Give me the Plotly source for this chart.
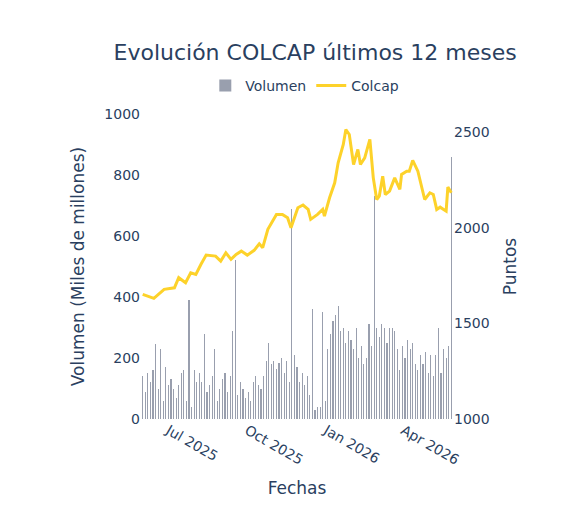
import pandas as pd
import plotly.graph_objects as go

line_dates = ["2025-06-01","2025-06-14","2025-06-26","2025-07-08","2025-07-13","2025-07-21","2025-07-27","2025-08-02","2025-08-08","2025-08-14",
"2025-08-25","2025-08-31","2025-09-06","2025-09-12","2025-09-18","2025-09-24","2025-10-01","2025-10-09","2025-10-15","2025-10-19",
"2025-10-25","2025-11-04","2025-11-11","2025-11-17","2025-11-21","2025-11-29","2025-12-05","2025-12-11","2025-12-14","2025-12-22",
"2025-12-28","2025-12-30","2026-01-05","2026-01-11","2026-01-15","2026-01-21","2026-01-24","2026-01-28","2026-02-02","2026-02-07",
"2026-02-10","2026-02-15","2026-02-21","2026-02-25","2026-03-01","2026-03-04","2026-03-08","2026-03-11","2026-03-16","2026-03-22",
"2026-03-28","2026-03-30","2026-04-05","2026-04-08","2026-04-12","2026-04-18","2026-04-26","2026-05-02","2026-05-06","2026-05-10",
"2026-05-14","2026-05-18","2026-05-21","2026-05-23","2026-05-27"]
colcap = [1652,1631,1678,1686,1739,1713,1765,1756,1809,1857,
1852,1826,1869,1835,1861,1878,1857,1882,1916,1896,
1992,2070,2070,2052,2000,2105,2119,2096,2044,2070,
2096,2061,2157,2235,2340,2436,2514,2488,2331,2410,
2331,2366,2462,2261,2148,2166,2270,2174,2192,2261,
2201,2279,2296,2296,2352,2296,2148,2183,2174,2096,
2108,2096,2087,2213,2183]

bar_start = "2025-06-01"
volumen = [140,90,150,120,160,245,100,230,60,170,
110,130,100,70,110,150,160,60,390,40,
160,120,150,120,280,90,110,140,230,60,
100,130,150,90,140,290,520,80,120,100,
70,90,60,120,140,110,100,140,190,250,
180,190,165,185,200,150,190,120,690,210,
170,120,150,110,140,80,360,30,40,40,
350,60,230,280,320,340,370,290,300,250,
290,260,230,300,200,240,180,200,310,240,
730,300,270,310,300,250,300,300,290,230,
160,240,200,260,230,250,180,160,210,180,
220,150,210,140,210,300,150,230,200,240,860]

bar_dates = pd.date_range(bar_start, periods=len(volumen), freq="3D")

font_color = "#2a3f5f"
fig = go.Figure()
fig.add_trace(go.Bar(x=bar_dates, y=volumen, name="Volumen",
                     marker=dict(color="rgba(110,118,140,0.7)", line=dict(width=0)),
                     width=1.4*86400000))
fig.add_trace(go.Scatter(x=pd.to_datetime(line_dates), y=colcap, name="Colcap", yaxis="y2",
                         mode="lines", line=dict(color="#FDD22A", width=3)))

fig.update_layout(
    width=585, height=529,
    paper_bgcolor="white", plot_bgcolor="white",
    font=dict(family="DejaVu Sans", color=font_color, size=14),
    title=dict(text="Evolución COLCAP últimos 12 meses", x=0.525, xanchor="center", y=0.93,
               font=dict(size=22, color=font_color)),
    legend=dict(orientation="h", x=0.525, xanchor="center", y=1.04, yanchor="bottom",
                font=dict(size=14)),
    margin=dict(l=133, r=140, t=106, b=118),
    bargap=0,
    xaxis=dict(title=dict(text="Fechas", font=dict(size=17)), tickangle=30, showgrid=False,
               dtick="M3", tickformat="%b %Y", tick0="2025-07-01",
               range=["2025-05-30", "2026-05-29"], tickfont=dict(size=14)),
    yaxis=dict(title=dict(text="Volumen (Miles de millones)", font=dict(size=17)),
               range=[0, 1000], dtick=200, showgrid=False, zeroline=False),
    yaxis2=dict(title=dict(text="Puntos", font=dict(size=17)), overlaying="y", side="right",
                range=[1000, 2595], tickvals=[1000, 1500, 2000, 2500], showgrid=False, zeroline=False),
)
fig.write_html("out.html")
